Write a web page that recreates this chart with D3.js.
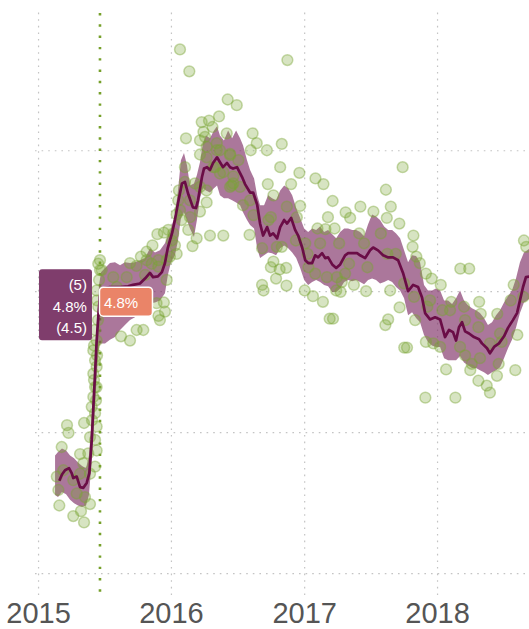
<!DOCTYPE html>
<html>
<head>
<meta charset="utf-8">
<script src="https://cdn.jsdelivr.net/npm/d3@7"></script>
<style>
  body { margin: 0; background: #fff; }
</style>
</head>
<body>
<div id="chart"></div>
<script>
// x values are decimal years, y values are the estimate (in %)
var tickYears = [2015, 2016, 2017, 2018];
var gridValues = [4.4, 4.6, 4.8, 5.0];
var xStart = 2014.977, xEnd = 2018.692;
var yMin = 4.369, yMax = 5.199;

// date of the highlighted reading and its estimate (low / mid / high)
var refYear = 2015.466;
var refMid = 4.8, refLow = 4.5, refHigh = 5;

// smoothed trend [year, value]
var lineData = [
  [2015.160,4.531],[2015.180,4.540],[2015.203,4.546],[2015.233,4.549],[2015.253,4.542],[2015.265,4.535],
  [2015.291,4.537],[2015.316,4.522],[2015.341,4.521],[2015.366,4.528],[2015.386,4.542],[2015.404,4.589],
  [2015.416,4.635],[2015.429,4.684],[2015.441,4.730],[2015.453,4.763],[2015.466,4.794],[2015.489,4.804],
  [2015.541,4.806],[2015.617,4.806],[2015.677,4.807],[2015.714,4.809],[2015.767,4.811],[2015.805,4.818],
  [2015.842,4.826],[2015.865,4.820],[2015.902,4.821],[2015.932,4.827],[2015.955,4.840],[2015.977,4.862],
  [2016.008,4.882],[2016.030,4.901],[2016.053,4.925],[2016.083,4.953],[2016.105,4.955],[2016.128,4.939],
  [2016.165,4.919],[2016.188,4.918],[2016.203,4.929],[2016.233,4.962],[2016.248,4.974],[2016.271,4.976],
  [2016.293,4.972],[2016.316,4.982],[2016.346,4.990],[2016.368,4.983],[2016.391,4.976],[2016.421,4.982],
  [2016.444,4.976],[2016.466,4.974],[2016.496,4.976],[2016.534,4.962],[2016.556,4.952],[2016.594,4.940],
  [2016.617,4.940],[2016.647,4.923],[2016.669,4.896],[2016.692,4.879],[2016.722,4.891],[2016.744,4.879],
  [2016.767,4.882],[2016.797,4.875],[2016.820,4.891],[2016.850,4.901],[2016.872,4.896],[2016.902,4.904],
  [2016.932,4.887],[2016.955,4.879],[2016.985,4.862],[2017.008,4.844],[2017.030,4.840],[2017.060,4.840],
  [2017.083,4.851],[2017.105,4.848],[2017.135,4.854],[2017.158,4.847],[2017.180,4.848],[2017.211,4.838],
  [2017.241,4.833],[2017.271,4.838],[2017.308,4.851],[2017.331,4.854],[2017.361,4.854],[2017.398,4.854],
  [2017.421,4.851],[2017.459,4.847],[2017.496,4.858],[2017.519,4.862],[2017.556,4.858],[2017.594,4.851],
  [2017.632,4.848],[2017.669,4.848],[2017.707,4.844],[2017.744,4.826],[2017.782,4.800],[2017.820,4.809],
  [2017.857,4.806],[2017.887,4.791],[2017.910,4.769],[2017.947,4.760],[2017.985,4.763],[2018.023,4.760],
  [2018.060,4.735],[2018.090,4.745],[2018.120,4.742],[2018.143,4.730],[2018.165,4.749],[2018.188,4.756],
  [2018.211,4.743],[2018.241,4.740],[2018.278,4.735],[2018.316,4.732],[2018.338,4.726],[2018.376,4.719],
  [2018.398,4.712],[2018.429,4.721],[2018.466,4.726],[2018.504,4.736],[2018.534,4.748],[2018.571,4.759],
  [2018.602,4.769],[2018.624,4.787],[2018.647,4.806],[2018.669,4.820],[2018.699,4.821]
];

// uncertainty band [year, low, high]
var bandData = [
  [2015.128,4.511,4.567],[2015.150,4.508,4.572],[2015.180,4.515,4.577],[2015.211,4.512,4.574],
  [2015.241,4.504,4.567],[2015.271,4.499,4.563],[2015.301,4.496,4.557],[2015.331,4.494,4.552],
  [2015.361,4.496,4.549],[2015.383,4.511,4.567],[2015.398,4.546,4.603],[2015.414,4.589,4.652],
  [2015.429,4.638,4.702],[2015.444,4.688,4.759],[2015.459,4.723,4.809],[2015.474,4.726,4.827],
  [2015.504,4.726,4.833],[2015.541,4.731,4.840],[2015.579,4.735,4.841],[2015.617,4.745,4.837],
  [2015.654,4.752,4.841],[2015.692,4.759,4.840],[2015.729,4.763,4.841],[2015.767,4.773,4.844],
  [2015.805,4.777,4.847],[2015.842,4.783,4.861],[2015.880,4.784,4.855],[2015.917,4.787,4.858],
  [2015.955,4.797,4.868],[2015.977,4.823,4.878],[2016.000,4.841,4.889],[2016.030,4.851,4.908],
  [2016.053,4.872,4.943],[2016.075,4.904,4.986],[2016.098,4.912,4.996],[2016.120,4.901,4.979],
  [2016.143,4.889,4.950],[2016.173,4.877,4.953],[2016.195,4.901,4.965],[2016.218,4.932,4.983],
  [2016.241,4.946,5.011],[2016.263,4.943,5.021],[2016.293,4.940,5.017],[2016.323,4.946,5.028],
  [2016.346,4.950,5.034],[2016.368,4.936,5.021],[2016.398,4.932,5.014],[2016.429,4.932,5.028],
  [2016.459,4.929,5.017],[2016.489,4.926,5.028],[2016.519,4.922,5.017],[2016.541,4.912,5.007],
  [2016.571,4.901,4.986],[2016.594,4.894,4.972],[2016.624,4.889,4.960],[2016.647,4.861,4.936],
  [2016.669,4.847,4.922],[2016.699,4.851,4.922],[2016.729,4.855,4.936],[2016.759,4.854,4.932],
  [2016.789,4.851,4.929],[2016.820,4.861,4.943],[2016.850,4.865,4.950],[2016.880,4.861,4.946],
  [2016.910,4.855,4.936],[2016.940,4.847,4.918],[2016.970,4.833,4.904],[2017.000,4.816,4.889],
  [2017.030,4.809,4.884],[2017.060,4.813,4.889],[2017.090,4.816,4.887],[2017.120,4.813,4.892],
  [2017.150,4.809,4.884],[2017.180,4.807,4.887],[2017.211,4.799,4.881],[2017.241,4.799,4.875],
  [2017.271,4.804,4.884],[2017.301,4.813,4.889],[2017.331,4.816,4.889],[2017.361,4.814,4.887],
  [2017.391,4.816,4.887],[2017.421,4.813,4.884],[2017.451,4.810,4.878],[2017.481,4.816,4.895],
  [2017.511,4.818,4.909],[2017.541,4.816,4.906],[2017.571,4.811,4.901],[2017.602,4.813,4.892],
  [2017.632,4.816,4.887],[2017.662,4.813,4.887],[2017.692,4.806,4.882],[2017.722,4.801,4.875],
  [2017.752,4.790,4.858],[2017.782,4.766,4.841],[2017.812,4.770,4.851],[2017.842,4.762,4.850],
  [2017.872,4.756,4.841],[2017.902,4.738,4.809],[2017.932,4.728,4.801],[2017.962,4.723,4.801],
  [2017.992,4.721,4.804],[2018.023,4.721,4.801],[2018.053,4.705,4.787],[2018.083,4.702,4.787],
  [2018.113,4.702,4.782],[2018.143,4.702,4.790],[2018.173,4.708,4.801],[2018.203,4.699,4.787],
  [2018.233,4.695,4.780],[2018.263,4.691,4.776],[2018.293,4.691,4.773],[2018.323,4.688,4.769],
  [2018.353,4.685,4.762],[2018.383,4.681,4.752],[2018.414,4.685,4.756],[2018.444,4.688,4.766],
  [2018.474,4.692,4.773],[2018.504,4.705,4.784],[2018.534,4.719,4.793],[2018.564,4.731,4.801],
  [2018.594,4.748,4.818],[2018.624,4.769,4.841],[2018.654,4.784,4.855],[2018.699,4.790,4.861]
];

// individual readings [year, value]
var pointData = [
  [2015.141,4.537],[2015.153,4.518],[2015.160,4.496],[2015.178,4.579],[2015.218,4.610],[2015.229,4.599],
  [2015.265,4.481],[2015.291,4.513],[2015.316,4.569],[2015.323,4.488],[2015.341,4.556],[2015.346,4.613],
  [2015.346,4.472],[2015.353,4.508],[2015.378,4.570],[2015.391,4.541],[2015.391,4.593],[2015.391,4.498],
  [2015.404,4.636],[2015.416,4.650],[2015.416,4.683],[2015.416,4.716],[2015.429,4.627],[2015.429,4.589],
  [2015.429,4.551],[2015.441,4.574],[2015.441,4.608],[2015.429,4.664],[2015.441,4.664],[2015.429,4.702],
  [2015.441,4.693],[2015.441,4.730],[2015.429,4.745],[2015.453,4.778],[2015.441,4.801],[2015.466,4.830],
  [2015.453,4.839],[2015.466,4.844],[2015.479,4.830],[2015.190,4.546],[2015.265,4.532],[2015.316,4.541],
  [2015.444,4.787],[2015.459,4.816],[2015.421,4.723],[2015.444,4.709],[2015.406,4.617],[2015.436,4.645],
  [2015.451,4.759],[2015.421,4.674],
  [2015.624,4.736],[2015.692,4.730],[2015.742,4.745],[2015.792,4.745],[2015.692,4.840],[2015.741,4.836],
  [2015.774,4.849],[2015.817,4.856],[2015.817,4.844],[2015.861,4.865],[2015.898,4.881],[2015.947,4.883],
  [2015.980,4.887],[2016.005,4.872],[2016.030,4.865],[2016.043,4.853],[2015.992,4.849],[2015.905,4.844],
  [2015.968,4.844],[2015.892,4.783],[2015.947,4.784],[2015.906,4.765],[2015.955,4.771],[2015.917,4.759],
  [2015.968,4.816],[2016.068,5.143],[2016.138,5.112],[2016.060,4.943],[2016.043,4.909],[2016.055,4.929],
  [2016.068,4.915],[2016.105,4.955],[2016.113,5.017],[2016.130,4.887],[2016.193,4.875],[2016.162,4.864],
  [2016.143,4.905],[2016.218,4.913],[2016.268,4.926],[2016.268,4.943],[2016.218,4.994],[2016.231,5.040],
  [2016.244,5.026],[2016.218,5.014],[2016.256,5.019],[2016.268,5.005],[2016.268,4.990],[2016.286,5.042],
  [2016.312,5.033],[2016.318,4.976],[2016.344,5.010],[2016.361,5.048],[2016.368,4.967],[2016.293,4.879],
  [2016.393,4.879],[2016.419,5.024],[2016.426,5.072],[2016.494,5.064],[2016.444,4.995],[2016.444,4.948],
  [2016.468,4.953],[2016.506,4.986],[2016.344,5.000],[2016.444,4.993],[2016.468,4.963],[2016.519,4.948],
  [2016.143,4.929],[2016.080,4.901],[2016.017,4.882],[2015.855,4.839],[2015.667,4.820],[2015.566,4.820],
  [2015.592,4.806],[2015.617,4.787],[2015.805,4.823],[2015.905,4.835],[2016.105,4.976],[2016.180,4.953],
  [2016.218,4.948],[2016.331,4.976],[2016.368,5.000],[2016.393,4.969],[2016.456,4.950],[2015.526,4.794],
  [2016.590,4.880],[2016.599,5.000],[2016.613,5.024],[2016.644,5.010],[2016.684,4.861],[2016.684,4.809],
  [2016.695,4.801],[2016.720,5.000],[2016.727,4.952],[2016.750,4.834],[2016.769,4.936],[2016.769,4.842],
  [2016.789,4.818],[2016.816,4.831],[2016.820,4.976],[2016.832,5.009],[2016.832,4.863],[2016.865,4.833],
  [2016.867,4.808],[2016.874,5.128],[2016.902,4.952],[2016.964,4.968],[2016.970,4.921],[2017.004,4.801],
  [2017.066,4.793],[2017.085,4.960],[2017.100,4.889],[2017.141,4.785],[2017.145,4.952],[2017.160,4.888],
  [2017.179,4.905],[2017.192,4.761],[2017.217,4.761],[2017.214,4.928],[2017.229,4.889],[2017.241,4.801],
  [2017.274,4.799],[2017.312,4.912],[2017.308,4.825],[2017.283,4.813],[2017.346,4.904],[2017.374,4.809],
  [2017.423,4.920],[2017.466,4.800],[2017.521,4.913],[2017.615,4.944],[2017.622,4.904],[2017.652,4.920],
  [2017.611,4.752],[2017.632,4.760],[2017.647,4.801],[2017.718,4.777],[2017.716,4.896],[2017.741,4.976],
  [2017.753,4.720],[2017.774,4.720],[2017.816,4.863],[2017.822,4.879],[2017.835,4.759],[2017.844,4.849],
  [2017.870,4.840],[2017.916,4.825],[2017.916,4.728],[2017.912,4.649],[2017.959,4.818],[2018.028,4.809],
  [2016.619,4.908],[2016.732,4.901],[2016.795,4.863],[2016.870,4.920],[2016.945,4.905],[2017.008,4.868],
  [2017.120,4.868],[2017.083,4.825],[2017.171,4.820],[2017.246,4.820],[2017.032,4.834],[2016.750,4.905],
  [2016.938,4.872],[2017.025,4.853],[2017.263,4.868],[2017.414,4.882],[2017.451,4.868],[2017.577,4.882],
  [2017.626,4.853],[2017.689,4.853],[2017.338,4.839],[2017.476,4.834],[2017.752,4.811],[2017.827,4.792],
  [2017.927,4.778],[2016.594,4.929],[2016.541,4.922],
  [2017.972,4.726],[2018.023,4.721],[2018.068,4.689],[2018.107,4.785],[2018.138,4.649],[2018.175,4.832],
  [2018.242,4.832],[2018.211,4.709],[2018.261,4.697],[2018.250,4.688],[2018.311,4.673],[2018.317,4.785],
  [2018.374,4.666],[2018.398,4.656],[2018.451,4.680],[2018.464,4.697],[2018.577,4.809],[2018.589,4.688],
  [2018.604,4.738],[2018.649,4.792],[2018.654,4.872],[2018.671,4.863],[2018.040,4.773],[2018.203,4.778],
  [2018.329,4.768],[2018.453,4.768],[2018.554,4.787],[2017.947,4.787],[2018.098,4.773],[2018.211,4.759],
  [2018.311,4.749],[2018.398,4.726],[2018.486,4.728],[2018.173,4.721],[2018.323,4.705],[2018.474,4.740]
];

function toDate(yr) {
  var whole = Math.floor(yr);
  var start = new Date(whole, 0, 1);
  var end = new Date(whole + 1, 0, 1);
  return new Date(start.getTime() + (yr - whole) * (end - start));
}

var width = 529;
var height = 629;
var plot = { left: 35, right: 529, top: 10, bottom: 595 };

var svg = d3.select('#chart').append("svg")
  .attr("width", width)
  .attr("height", height)
  .style("display", "block");

var x = d3.scaleTime()
  .domain([toDate(xStart), toDate(xEnd)])
  .range([plot.left, plot.right]);

var y = d3.scaleLinear()
  .domain([yMin, yMax])
  .range([plot.bottom, plot.top]);

svg.append("defs").append("clipPath")
  .attr("id", "plot-clip")
  .append("rect")
  .attr("x", plot.left)
  .attr("y", 0)
  .attr("width", plot.right - plot.left)
  .attr("height", plot.bottom);

// dotted grid
var xGrid = svg.append("g")
  .attr("transform", "translate(0," + plot.bottom + ")")
  .call(d3.axisBottom(x)
    .tickValues(tickYears.map(toDate))
    .tickSize(-(plot.bottom - plot.top))
    .tickFormat(""));

var yGrid = svg.append("g")
  .attr("transform", "translate(" + plot.left + ",0)")
  .call(d3.axisLeft(y)
    .tickValues(gridValues)
    .tickSize(-(plot.right - plot.left))
    .tickFormat(""));

[xGrid, yGrid].forEach(function (g) {
  g.select(".domain").remove();
  g.selectAll(".tick line")
    .attr("stroke", "#c4c4c4")
    .attr("stroke-width", 1.2)
    .attr("stroke-dasharray", "1.6,5");
});

// year labels
var xAxis = svg.append("g")
  .attr("transform", "translate(0," + plot.bottom + ")")
  .call(d3.axisBottom(x)
    .tickValues(tickYears.map(toDate))
    .tickSize(0)
    .tickFormat(d3.timeFormat("%Y")));
xAxis.select(".domain").remove();
xAxis.selectAll("text")
  .attr("y", 28)
  .attr("dy", 0)
  .attr("fill", "#555")
  .style("font-family", "'Liberation Sans Narrow', 'Arial Narrow', sans-serif")
  .style("font-size", "29px");

// highlighted date
var refX = x(toDate(refYear));
svg.append("line")
  .attr("x1", refX)
  .attr("x2", refX)
  .attr("y1", 13)
  .attr("y2", plot.bottom)
  .attr("stroke", "#76a02a")
  .attr("stroke-width", 2.6)
  .attr("stroke-dasharray", "2.4,8.9");

var chart = svg.append("g").attr("clip-path", "url(#plot-clip)");

var area = d3.area()
  .x(function (d) { return x(toDate(d[0])); })
  .y0(function (d) { return y(d[1]); })
  .y1(function (d) { return y(d[2]); });

chart.append("path")
  .datum(bandData)
  .attr("d", area)
  .attr("fill", "#7b2a63")
  .attr("fill-opacity", 0.64);

chart.selectAll("circle")
  .data(pointData)
  .enter()
  .append("circle")
  .attr("cx", function (d) { return x(toDate(d[0])); })
  .attr("cy", function (d) { return y(d[1]); })
  .attr("r", 5.4)
  .attr("fill", "#7aa535")
  .attr("fill-opacity", 0.3)
  .attr("stroke", "#7aa535")
  .attr("stroke-opacity", 0.42)
  .attr("stroke-width", 1.5);

var line = d3.line()
  .x(function (d) { return x(toDate(d[0])); })
  .y(function (d) { return y(d[1]); });

chart.append("path")
  .datum(lineData)
  .attr("d", line)
  .attr("fill", "none")
  .attr("stroke", "#6a0d46")
  .attr("stroke-width", 2.7)
  .attr("stroke-linejoin", "round");

// labels at the highlighted date
var fmt = function (v) { return d3.format(".1f")(v) + "%"; };
var yMid = y(refMid);
var labelFont = "'Liberation Sans', Arial, sans-serif";

var leftLabel = svg.append("g");
leftLabel.append("rect")
  .attr("x", refX - 61)
  .attr("y", yMid - 22)
  .attr("width", 53)
  .attr("height", 71)
  .attr("rx", 3)
  .attr("fill", "#7f3d6c");
leftLabel.selectAll("text")
  .data(["(" + d3.format("")(refHigh) + ")", fmt(refMid), "(" + d3.format("")(refLow) + ")"])
  .enter()
  .append("text")
  .attr("x", refX - 13)
  .attr("y", function (d, i) { return yMid - 1 + i * 21.5; })
  .attr("text-anchor", "end")
  .attr("fill", "#fff")
  .style("font-family", labelFont)
  .style("font-size", "15px")
  .text(function (d) { return d; });

var rightLabel = svg.append("g");
rightLabel.append("rect")
  .attr("x", refX - 0.5)
  .attr("y", yMid - 4)
  .attr("width", 53)
  .attr("height", 29)
  .attr("rx", 4)
  .attr("fill", "#ea8468")
  .attr("stroke", "#fff")
  .attr("stroke-width", 1.5);
rightLabel.append("text")
  .attr("x", refX + 4)
  .attr("y", yMid + 17)
  .attr("fill", "#fff")
  .style("font-family", labelFont)
  .style("font-size", "15px")
  .text(fmt(refMid));
</script>
</body>
</html>
